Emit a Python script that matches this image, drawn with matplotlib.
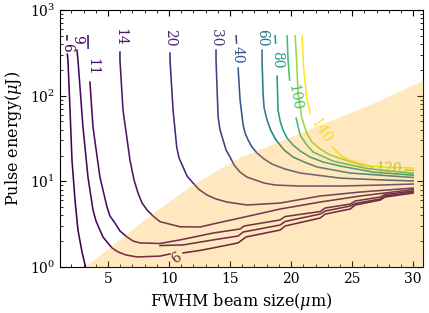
import numpy as np
import matplotlib
matplotlib.use("Agg")
import matplotlib.pyplot as plt
from matplotlib.ticker import MultipleLocator

plt.rcParams['font.family'] = 'serif'
plt.rcParams['font.serif'] = ['DejaVu Serif']
plt.rcParams['mathtext.fontset'] = 'dejavuserif'

nan = np.nan

# contour levels (colour scale)
levels = [6, 9, 11, 14, 20, 30, 40, 60, 80, 100, 120, 140]

# contour traces: x = FWHM (um), y = pulse energy (uJ)
# nan marks the gap where the inline label sits
c6_x = [1.64, 1.65, nan, 1.67, 1.72, 1.89, 2.05, 2.30, 2.54, 2.87, 3.16]
c6_y = [500, 450, nan, 305, 260, 68, 17.7, 6.0, 2.7, 1.5, 1.0]

c6_low_x = [11.15, 12.54, 13.61, 15.66, 16.30, 19.10, 19.51, 22.38, 22.79, 24.84, 25.25, 27.30, 27.70, 30.0]
c6_low_y = [1.46, 1.56, 1.67, 1.91, 2.24, 2.70, 3.01, 3.73, 4.15, 4.75, 5.29, 6.05, 6.56, 7.30]

c9_x = [2.46, 2.54, 2.95, 3.36, 3.77, 4.02, 4.34, 4.59, 4.92, 5.33, 5.82, 6.48, 7.38, 9.26, 10.08]
c9_y = [340, 260, 43, 11.2, 4.63, 3.44, 2.70, 2.24, 1.96, 1.67, 1.50, 1.38, 1.31, 1.34, 1.42]

c9_low_x = [9.26, 11.15, 13.61, 15.66, 16.07, 19.10, 19.51, 22.38, 22.79, 24.84, 25.25, 27.30, 27.70, 30.0]
c9_low_y = [1.78, 1.81, 2.07, 2.30, 2.56, 3.09, 3.40, 4.15, 4.50, 5.15, 5.51, 6.22, 6.74, 7.50]

c11_x = [3.36, 3.37, nan, 3.52, 3.77, 4.34, 4.92, 5.16, 5.57, 5.98, 6.56, 7.05, 7.62, 9.26, 10.90, 13.61,
         15.82, 16.15, 19.10, 19.51, 22.38, 22.79, 24.84, 25.25, 27.30, 27.70, 30.0]
c11_y = [500, 359, nan, 144, 43.0, 11.2, 5.01, 3.94, 3.26, 2.63, 2.24, 2.01, 1.91, 1.88, 2.07, 2.49,
         2.78, 3.01, 3.54, 3.88, 4.44, 4.88, 5.43, 5.89, 6.56, 7.02, 7.70]

c14_x = [5.98, 5.98, 6.23, 6.80, 7.13, 7.46, 7.79, 8.20, 8.69, 9.26, 10.90, 12.54, 13.61, 15.82, 19.10, 22.38, 25.66, 30.0]
c14_y = [323, 260, 67.9, 17.7, 10.4, 7.30, 5.58, 4.63, 3.94, 3.38, 2.95, 2.93, 3.18, 3.73, 4.75, 5.73, 6.74, 8.02]

c20_x = [10.08, 10.08, 10.33, 10.63, 10.82, 11.15, 11.48, 11.97, 12.46, 13.11, 13.85, 14.75, 16.39, 19.10, 22.38, 25.66, 30.0]
c20_y = [314, 260, 67.9, 25.1, 18.7, 14.7, 11.5, 9.55, 8.02, 6.92, 6.22, 5.73, 5.29, 5.58, 6.74, 7.50, 8.35]

c30_x = [13.85, 13.85, 14.02, 14.18, 14.43, 14.67, 15.0, 15.33, 15.82, 16.39, 17.05, 17.79, 18.69, 20.74, 24.02, 27.30, 30.0]
c30_y = [340, 260, 56.3, 39.7, 30.3, 23.2, 19.2, 15.5, 12.8, 11.2, 10.4, 9.55, 9.05, 8.81, 8.81, 9.05, 9.30]

c40_x = [15.49, 15.53, nan, 15.66, 15.82, 16.07, 16.23, 16.48, 16.80, 17.21, 17.79, 18.44, 19.51, 20.74, 24.02, 27.30, 30.0]
c40_y = [500, 411, nan, 210, 88.9, 45.4, 36.6, 30.3, 25.1, 21.4, 18.2, 15.9, 13.9, 12.5, 10.9, 10.4, 10.1]

c60_x = [17.62, 17.62, 17.70, 17.79, 18.03, 18.36, 18.77, 19.43, 20.16, 21.07, 22.13, 24.84, 30.0]
c60_y = [340, 260, 107, 71.6, 51.9, 38.6, 30.3, 23.2, 19.2, 16.8, 14.7, 12.5, 11.08]

c80_x = [18.69, 18.73, nan, 18.85, 18.93, 19.10, 19.34, 19.67, 20.16, 20.74, 21.56, 22.62, 24.02, 26.72, 30.0]
c80_y = [500, 411, nan, 169, 67.9, 50.5, 39.7, 32.0, 26.5, 22.6, 19.2, 16.8, 15.1, 12.8, 11.8]

c100_x = [19.67, 19.75, 19.88, nan, 20.41, 20.74, 21.23, 21.80, 23.44, 26.23, 30.0]
c100_y = [500, 260, 152, nan, 54.8, 34.7, 27.2, 22.0, 17.2, 14.1, 12.4]

c120_x = [20.33, 20.45, 20.57, 20.86, 21.27, 21.72, 22.38, 23.11, 24.02, 25.66, 26.72, nan, 29.34, 30.0]
c120_y = [500, 260, 107, 56.3, 36.6, 28.7, 23.8, 20.6, 18.5, 15.7, 14.7, nan, 13.5, 13.4]

c140_x = [20.90, 21.02, 21.27, 21.56, nan, 23.36, 24.02, 24.59, 25.25, 26.48, 28.11, 30.0]
c140_y = [500, 216, 96.3, 62.7, nan, 25.1, 20.3, 18.2, 16.8, 15.1, 14.5, 14.3]

# inline labels
lab_text = ['6', '9', '11', '14', '20', '30', '40', '60', '80', '100', '120', '140', '6']
lab_level = [6, 9, 11, 14, 20, 30, 40, 60, 80, 100, 120, 140, 6]
lab_x = [1.64, 2.46, 3.69, 5.98, 10.08, 13.85, 15.6, 17.62, 18.85, 20.25, 28.03, 22.46, 10.57]
lab_y = [370, 458, 216, 483, 470, 480, 298, 470, 260, 96.3, 14.1, 38.6, 1.27]
lab_rot = [-90, -90, -90, -90, -90, -90, -90, -90, -90, -80, -3, -56, 35]

# edge of the shaded region
fill_x = [3.11, 5.16, 8.44, 11.97, 15.82, 21.31, 26.72, 30.82]
fill_y = [1.0, 1.71, 4.04, 9.30, 19.2, 39.7, 82.0, 152]

traces = [(6, c6_x, c6_y), (6, c6_low_x, c6_low_y), (9, c9_x, c9_y), (9, c9_low_x, c9_low_y),
          (11, c11_x, c11_y), (14, c14_x, c14_y), (20, c20_x, c20_y), (30, c30_x, c30_y),
          (40, c40_x, c40_y), (60, c60_x, c60_y), (80, c80_x, c80_y), (100, c100_x, c100_y),
          (120, c120_x, c120_y), (140, c140_x, c140_y)]

cmap = plt.get_cmap('viridis')
norm = plt.Normalize(min(levels), max(levels))

fig = plt.figure(figsize=(4.29, 3.13), dpi=100)
ax = fig.add_axes([0.1399, 0.147, 0.846, 0.821])

for lev, xs, ys in traces:
    ax.plot(xs, ys, color=cmap(norm(lev)), lw=1.15, zorder=2, solid_joinstyle='round')

for s, lev, x, y, r in zip(lab_text, lab_level, lab_x, lab_y, lab_rot):
    ax.text(x, y, s, rotation=r, ha='center', va='center', rotation_mode='anchor',
            color=cmap(norm(lev)), fontsize=10, zorder=2)

ax.fill_between(fill_x, 1, fill_y, color='orange', alpha=0.25, lw=0, zorder=3)

ax.set_yscale('log')
ax.set_xlim(1.07, 30.8)
ax.set_ylim(1, 1000)
ax.xaxis.set_major_locator(MultipleLocator(5))
ax.xaxis.set_minor_locator(MultipleLocator(1))
ax.tick_params(which='both', direction='in', top=True, right=True, labelsize=10)
ax.tick_params(which='major', length=4.5)
ax.tick_params(which='minor', length=2.5)

ax.set_xlabel(r'FWHM beam size($\mu$m)', fontsize=11.5)
ax.set_ylabel(r'Pulse energy($\mu$J)', fontsize=11.5)

fig.savefig('out.png', dpi=100)
